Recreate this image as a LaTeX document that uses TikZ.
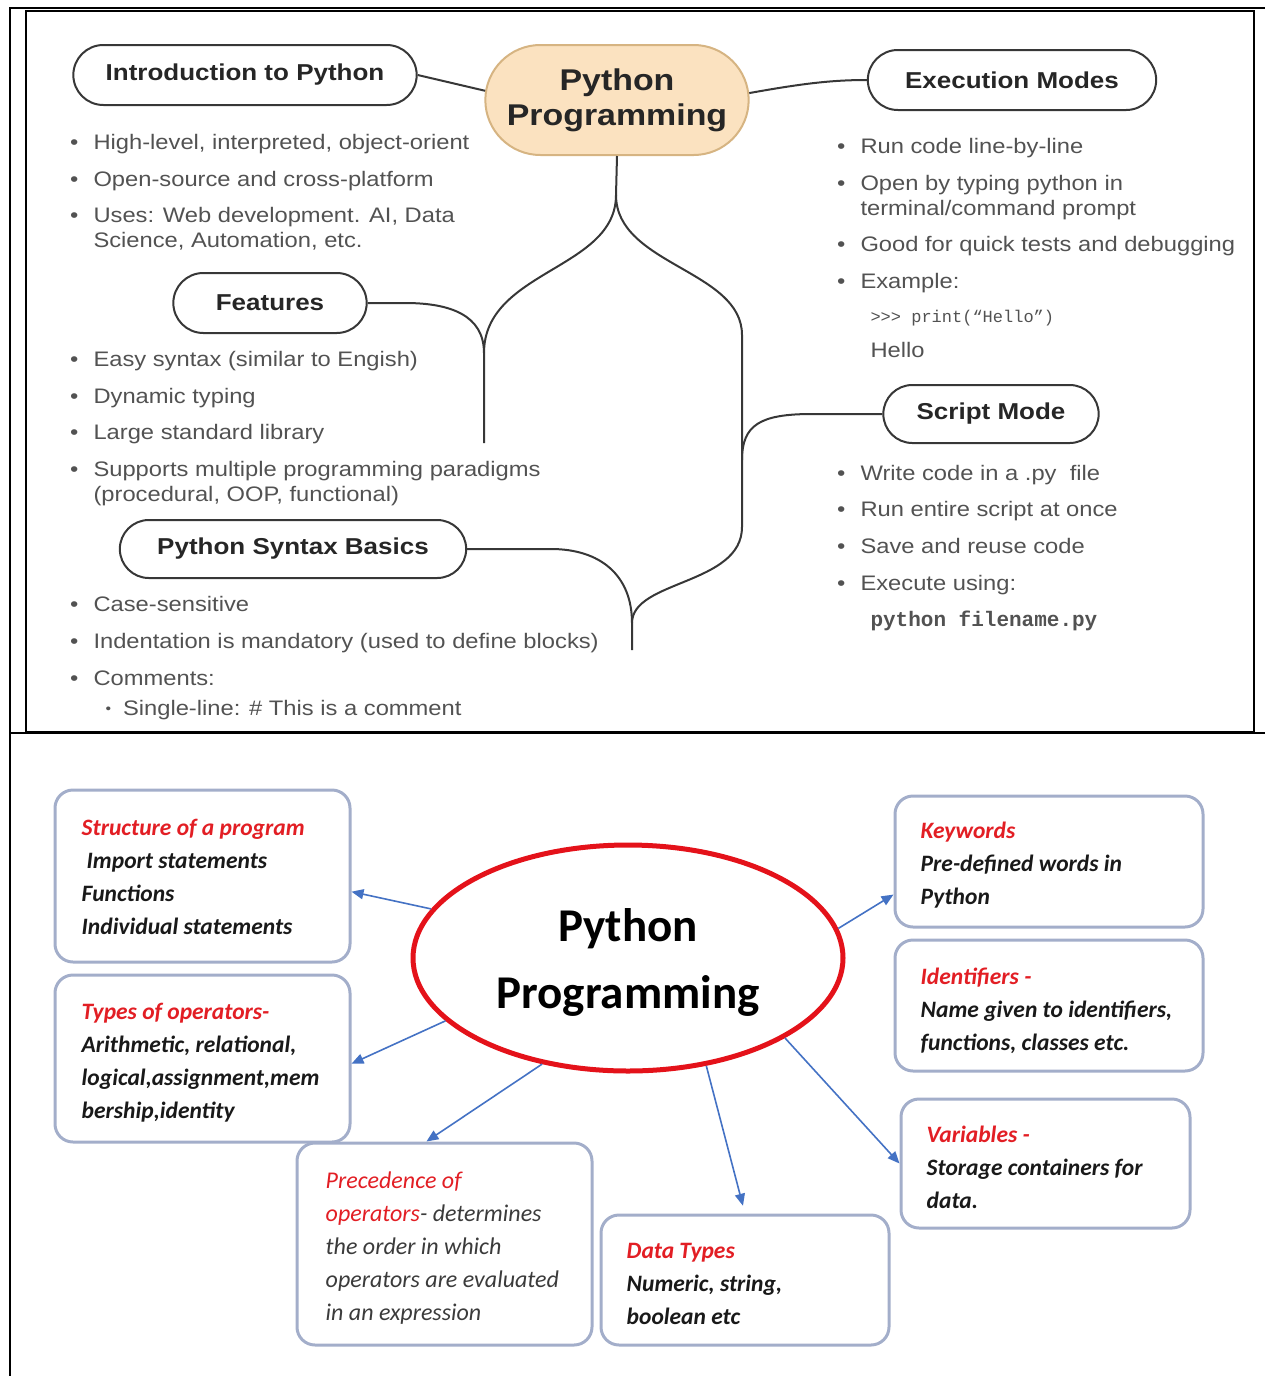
\documentclass[tikz,border=0pt]{standalone}
\usepackage{fontspec}
\usetikzlibrary{shapes.misc,shapes.geometric,arrows.meta}
\setmainfont{Liberation Sans}
\newfontfamily\helv[FakeStretch=1.13]{Liberation Sans}
\newfontfamily\helvmono{Liberation Mono}
\newfontfamily\calib{Carlito}
\definecolor{txtgray}{RGB}{82,82,82}
\definecolor{titlegray}{RGB}{38,38,38}
\definecolor{pilldraw}{RGB}{55,55,55}
\definecolor{ppfill}{RGB}{251,226,192}
\definecolor{ppdraw}{RGB}{214,180,130}
\definecolor{headred}{RGB}{226,30,36}
\definecolor{darktxt}{RGB}{25,25,25}
\definecolor{boxdraw}{RGB}{163,174,202}
\definecolor{arrblue}{RGB}{68,114,196}
\definecolor{ellred}{RGB}{228,18,26}
\newcommand{\bul}{\textbullet}
\newcommand{\hd}[1]{{\color{headred}#1}}

\begin{document}
\begin{tikzpicture}[x=1pt,y=1pt]
	\tikzstyle{pill}=[draw=pilldraw, line width=2pt, rounded rectangle, text=titlegray, font=\helv\bfseries\fontsize{23}{28}\selectfont]
	\tikzstyle{lst}=[inner sep=0pt, anchor=base west, text=txtgray, font=\helv\fontsize{21}{25}\selectfont]
	\tikzstyle{conn}=[draw=pilldraw, line width=2pt]
	\tikzstyle{vbox}=[draw=boxdraw, line width=3pt, rounded corners=18pt]
	\tikzstyle{vtxt}=[inner sep=0pt, anchor=west, align=left, text=darktxt, font=\calib\bfseries\itshape\fontsize{23.5}{33}\selectfont]
	\tikzstyle{arr}=[draw=arrblue, line width=1.6pt, -{Triangle[length=12pt,width=10pt]}]
	\useasboundingbox (0,0) rectangle (1265,-1376);
	\draw [line width=2pt] (10,-1376) -- (10,-8) -- (1265,-8);
	\draw [line width=2pt] (10,-733) -- (1265,-733);
	\draw [line width=2.5pt] (26,-11) rectangle (1254,-732);
	\node[pill, fill=ppfill, draw=ppdraw, minimum width=270, minimum height=110, align=center, font=\helv\bfseries\fontsize{30}{35}\selectfont] (pp) at (617,-100) {Python\\Programming};
	\node[pill, minimum width=350, minimum height=60] (intro) at (245,-75) {Introduction to Python};
	\node[pill, minimum width=295, minimum height=60] (exec) at (1012,-80) {Execution Modes};
	\node[pill, minimum width=200, minimum height=60] (feat) at (270,-303) {Features};
	\node[pill, minimum width=222, minimum height=58] (script) at (991,-414) {Script Mode};
	\node[pill, minimum width=353, minimum height=58] (syntax) at (293,-549) {Python Syntax Basics};
	\coordinate (split) at (616,-195);
	\coordinate (lj) at (484,-353);
	\coordinate (lend) at (484,-443);
	\coordinate (rj) at (742,-335);
	\coordinate (rk) at (742,-460);
	\coordinate (rb) at (742,-527);
	\coordinate (sj) at (632,-623);
	\coordinate (send) at (632,-650);
	\draw[conn] (intro.east) -- (pp.176);
	\draw[conn] (pp.3) .. controls (800,-84) and (830,-80) .. (exec.west);
	\draw[conn] (pp.south) -- (split);
	\draw[conn] (split) .. controls (616,-270) and (484,-270) .. (lj) -- (lend);
	\draw[conn] (split) .. controls (616,-265) and (742,-270) .. (rj) -- (rb);
	\draw[conn] (feat.east) -- (405,-303) .. controls (450,-303) and (484,-315) .. (lj);
	\draw[conn] (script.west) -- (812,-414) .. controls (760,-414) and (742,-425) .. (rk);
	\draw[conn] (rb) .. controls (742,-585) and (632,-580) .. (sj) -- (send);
	\draw[conn] (syntax.east) -- (551,-549) .. controls (600,-549) and (632,-575) .. (sj);
	\node[lst] (introlist) at (70,-149) {\begin{tabular}[t]{@{}l@{\hspace{15pt}}l@{}}
		\bul & High-level, interpreted, object-orient\\[12pt]
		\bul & Open-source and cross-platform\\[11pt]
		\bul & Uses: Web development. AI, Data\\
		& Science, Automation, etc.
	\end{tabular}};
	\node[lst] (featlist) at (70,-366) {\begin{tabular}[t]{@{}l@{\hspace{15pt}}l@{}}
		\bul & Easy syntax (similar to Engish)\\[12pt]
		\bul & Dynamic typing\\[11pt]
		\bul & Large standard library\\[12pt]
		\bul & Supports multiple programming paradigms\\
		& (procedural, OOP, functional)
	\end{tabular}};
	\node[lst] (syntaxlist) at (70,-611) {\begin{tabular}[t]{@{}l@{\hspace{15pt}}l@{}}
		\bul & Case-sensitive\\[12pt]
		\bul & Indentation is mandatory (used to define blocks)\\[12pt]
		\bul & Comments:\\[5pt]
		& \hspace{12pt}\raisebox{2pt}{\fontsize{14}{14}\selectfont\bul}\hspace{12pt}Single-line: \# This is a comment
	\end{tabular}};
	\node[lst] (execlist) at (837,-153) {\begin{tabular}[t]{@{}l@{\hspace{15pt}}l@{}}
		\bul & Run code line-by-line\\[12pt]
		\bul & Open by typing python in\\
		& terminal/command prompt\\[11pt]
		\bul & Good for quick tests and debugging\\[12pt]
		\bul & Example:\\[9pt]
		& \hspace{10pt}{\helvmono\fontsize{17}{20}\selectfont >>> print(“Hello”)}\\[10pt]
		& \hspace{10pt}Hello
	\end{tabular}};
	\node[lst] (scriptlist) at (837,-480) {\begin{tabular}[t]{@{}l@{\hspace{15pt}}l@{}}
		\bul & Write code in a .py\ \ file\\[11pt]
		\bul & Run entire script at once\\[12pt]
		\bul & Save and reuse code\\[12pt]
		\bul & Execute using:\\[11pt]
		& \hspace{10pt}{\helvmono\bfseries\fontsize{21}{24}\selectfont python filename.py}
	\end{tabular}};
	\node[draw=ellred, line width=5pt, ellipse, minimum width=430, minimum height=226] (ell) at (628,-958) {};
	\node[text=black, align=center, font=\calib\bfseries\fontsize{47}{67}\selectfont] (bptitle) at (628,-962) {Python\\Programming};
	\node[vbox, minimum width=295, minimum height=172] (struct) at (202.5,-876) {};
	\node[vtxt] (structtxt) at ([xshift=28pt,yshift=-1pt]struct.west) {\hd{Structure of a program}\\\hspace*{5pt}Import statements\\Functions\\Individual statements};
	\node[vbox, minimum width=295, minimum height=167] (types) at (202.5,-1058.5) {};
	\node[vtxt] (typestxt) at ([xshift=28pt,yshift=-4pt]types.west) {\hd{Types of operators-}\\Arithmetic, relational,\\logical,assignment,mem\\bership,identity};
	\node[vbox, minimum width=295, minimum height=202] (prec) at (444.5,-1244) {};
	\node[vtxt, text=darktxt!85, font=\calib\itshape\fontsize{24}{33}\selectfont] (prectxt) at ([xshift=30pt,yshift=-4pt]prec.west) {\hd{Precedence of}\\\hd{operators}- determines\\the order in which\\operators are evaluated\\in an expression};
	\node[vbox, minimum width=288, minimum height=130] (dtype) at (745,-1280) {};
	\node[vtxt] (dtypetxt) at ([xshift=27pt,yshift=-4pt]dtype.west) {\hd{Data Types}\\Numeric, string,\\boolean etc};
	\node[vbox, minimum width=289, minimum height=129] (var) at (1045.5,-1163.5) {};
	\node[vtxt] (vartxt) at ([xshift=27pt,yshift=-4pt]var.west) {\hd{Variables -}\\Storage containers for\\data.};
	\node[vbox, minimum width=308, minimum height=131] (ident) at (1049,-1005.5) {};
	\node[vtxt] (identtxt) at ([xshift=27pt,yshift=-5pt]ident.west) {\hd{Identifiers -}\\Name given to identifiers,\\functions, classes etc.};
	\node[vbox, minimum width=308, minimum height=131] (kw) at (1049,-861.5) {};
	\node[vtxt] (kwtxt) at ([xshift=27pt,yshift=-4pt]kw.west) {\hd{Keywords}\\Pre-defined words in\\Python};
	\draw[arr] (ell.166) -- (struct.-6.6);
	\draw[arr] (ell.199) -- (types.-2);
	\draw[arr] (ell.231) -- (prec.100);
	\draw[arr, shorten >=8pt] (ell.306) -- (dtype.north);
	\draw[arr] (ell.333) -- (var.west);
	\draw[arr] (ell.8) -- (kw.192);
\end{tikzpicture}
\end{document}
